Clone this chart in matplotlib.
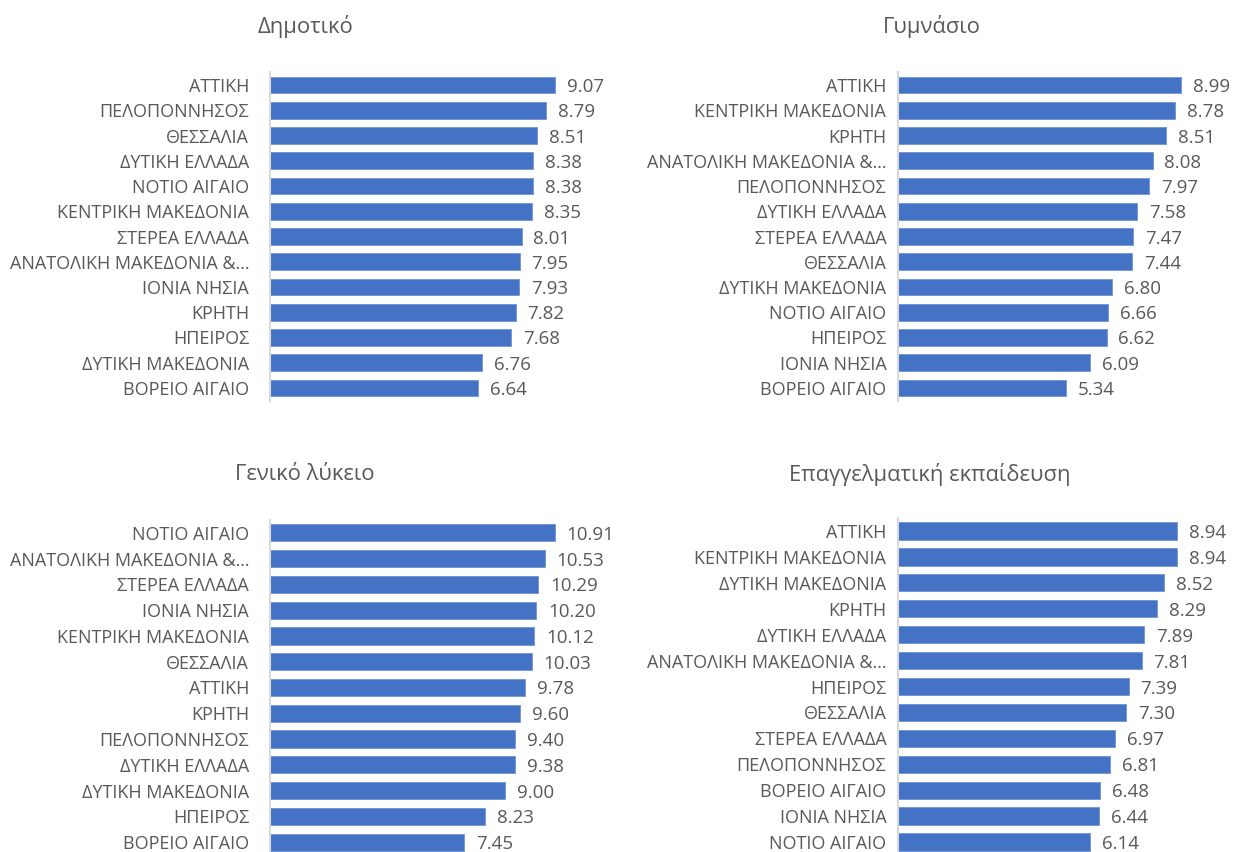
import matplotlib
matplotlib.use("Agg")
import matplotlib.pyplot as plt

plt.rcParams['font.family'] = ['Open Sans', 'DejaVu Sans']

titles = ["Δημοτικό", "Γυμνάσιο", "Γενικό λύκειο", "Επαγγελματική εκπαίδευση"]

cats_dim = ["ΑΤΤΙΚΗ", "ΠΕΛΟΠΟΝΝΗΣΟΣ", "ΘΕΣΣΑΛΙΑ", "ΔΥΤΙΚΗ ΕΛΛΑΔΑ", "ΝΟΤΙΟ ΑΙΓΑΙΟ",
            "ΚΕΝΤΡΙΚΗ ΜΑΚΕΔΟΝΙΑ", "ΣΤΕΡΕΑ ΕΛΛΑΔΑ", "ΑΝΑΤΟΛΙΚΗ ΜΑΚΕΔΟΝΙΑ &…", "ΙΟΝΙΑ ΝΗΣΙΑ",
            "ΚΡΗΤΗ", "ΗΠΕΙΡΟΣ", "ΔΥΤΙΚΗ ΜΑΚΕΔΟΝΙΑ", "ΒΟΡΕΙΟ ΑΙΓΑΙΟ"]
vals_dim = [9.07, 8.79, 8.51, 8.38, 8.38, 8.35, 8.01, 7.95, 7.93, 7.82, 7.68, 6.76, 6.64]

cats_gym = ["ΑΤΤΙΚΗ", "ΚΕΝΤΡΙΚΗ ΜΑΚΕΔΟΝΙΑ", "ΚΡΗΤΗ", "ΑΝΑΤΟΛΙΚΗ ΜΑΚΕΔΟΝΙΑ &…", "ΠΕΛΟΠΟΝΝΗΣΟΣ",
            "ΔΥΤΙΚΗ ΕΛΛΑΔΑ", "ΣΤΕΡΕΑ ΕΛΛΑΔΑ", "ΘΕΣΣΑΛΙΑ", "ΔΥΤΙΚΗ ΜΑΚΕΔΟΝΙΑ", "ΝΟΤΙΟ ΑΙΓΑΙΟ",
            "ΗΠΕΙΡΟΣ", "ΙΟΝΙΑ ΝΗΣΙΑ", "ΒΟΡΕΙΟ ΑΙΓΑΙΟ"]
vals_gym = [8.99, 8.78, 8.51, 8.08, 7.97, 7.58, 7.47, 7.44, 6.80, 6.66, 6.62, 6.09, 5.34]

cats_lyk = ["ΝΟΤΙΟ ΑΙΓΑΙΟ", "ΑΝΑΤΟΛΙΚΗ ΜΑΚΕΔΟΝΙΑ &…", "ΣΤΕΡΕΑ ΕΛΛΑΔΑ", "ΙΟΝΙΑ ΝΗΣΙΑ",
            "ΚΕΝΤΡΙΚΗ ΜΑΚΕΔΟΝΙΑ", "ΘΕΣΣΑΛΙΑ", "ΑΤΤΙΚΗ", "ΚΡΗΤΗ", "ΠΕΛΟΠΟΝΝΗΣΟΣ",
            "ΔΥΤΙΚΗ ΕΛΛΑΔΑ", "ΔΥΤΙΚΗ ΜΑΚΕΔΟΝΙΑ", "ΗΠΕΙΡΟΣ", "ΒΟΡΕΙΟ ΑΙΓΑΙΟ"]
vals_lyk = [10.91, 10.53, 10.29, 10.20, 10.12, 10.03, 9.78, 9.60, 9.40, 9.38, 9.00, 8.23, 7.45]

cats_epa = ["ΑΤΤΙΚΗ", "ΚΕΝΤΡΙΚΗ ΜΑΚΕΔΟΝΙΑ", "ΔΥΤΙΚΗ ΜΑΚΕΔΟΝΙΑ", "ΚΡΗΤΗ", "ΔΥΤΙΚΗ ΕΛΛΑΔΑ",
            "ΑΝΑΤΟΛΙΚΗ ΜΑΚΕΔΟΝΙΑ &…", "ΗΠΕΙΡΟΣ", "ΘΕΣΣΑΛΙΑ", "ΣΤΕΡΕΑ ΕΛΛΑΔΑ", "ΠΕΛΟΠΟΝΝΗΣΟΣ",
            "ΒΟΡΕΙΟ ΑΙΓΑΙΟ", "ΙΟΝΙΑ ΝΗΣΙΑ", "ΝΟΤΙΟ ΑΙΓΑΙΟ"]
vals_epa = [8.94, 8.94, 8.52, 8.29, 7.89, 7.81, 7.39, 7.30, 6.97, 6.81, 6.48, 6.44, 6.14]

W, H = 1235, 852
fig = plt.figure(figsize=(W / 100, H / 100), dpi=100)

BAR = '#4472C4'
TXT = '#595959'
FS_LAB = 13.0
FS_VAL = 13.5

# (left, right, top, bottom) in pixels, xmax, label pad(pt), title center x, title y
panels = [
    (cats_dim, vals_dim, titles[0], (270, 584, 72.4, 400.6), 10, 15.0, 305, 27),
    (cats_gym, vals_gym, titles[1], (898, 1213, 72.4, 400.6), 10, 8.4, 932, 27),
    (cats_lyk, vals_lyk, titles[2], (270, 583, 520, 855), 12, 15.0, 305, 474),
    (cats_epa, vals_epa, titles[3], (898, 1210, 518, 855), 10, 8.4, 930, 474),
]

for cats, vals, title, (l, r, t, b), xmax, pad, tx, ty in panels:
    ax = fig.add_axes([l / W, 1 - b / H, (r - l) / W, (b - t) / H])
    y = list(range(len(cats)))
    bars = ax.barh(y, vals, height=0.667, color=BAR, edgecolor='#6f93d3', linewidth=0.6)
    ax.set_ylim(len(cats) - 0.5, -0.5)
    ax.set_xlim(0, xmax)
    ax.set_yticks(y)
    ax.set_yticklabels(cats)
    ax.tick_params(axis='y', length=0, pad=pad, labelsize=FS_LAB, labelcolor=TXT)
    ax.set_xticks([])
    for s in ['top', 'right', 'bottom']:
        ax.spines[s].set_visible(False)
    ax.spines['left'].set_color('#D9D9D9')
    ax.spines['left'].set_linewidth(1.5)
    anns = ax.bar_label(bars, labels=[f"{v:.2f}" for v in vals], padding=8.6,
                        fontsize=FS_VAL, color=TXT)
    for a in anns:
        a.set_va('center_baseline')
    fig.text(tx / W, 1 - ty / H, title, ha='center', va='center', fontsize=15.8, color=TXT)

fig.savefig('out.png', dpi=100)
